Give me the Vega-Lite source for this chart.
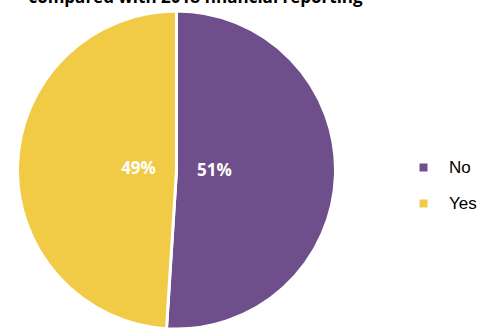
{
  "$schema": "https://vega.github.io/schema/vega-lite/v6.json",
  "autosize": {"type": "none"},
  "width": 353,
  "height": 312,
  "padding": {"top": 14, "left": 0, "right": 140, "bottom": 3},
  "background": "white",
  "title": {
    "text": "compared with 2018 financial reporting",
    "font": "Open Sans",
    "fontSize": 17,
    "fontWeight": "bold",
    "color": "#000000",
    "anchor": "middle",
    "frame": "group",
    "baseline": "alphabetic",
    "offset": 0,
    "dy": 15,
    "dx": 19
  },
  "data": {
    "values": [
      {"answer": "No", "share": 51, "label": "51%", "order": 1},
      {"answer": "Yes", "share": 49, "label": "49%", "order": 2}
    ]
  },
  "encoding": {
    "theta": {"field": "share", "type": "quantitative", "stack": true},
    "order": {"field": "order", "type": "quantitative"}
  },
  "layer": [
    {
      "mark": {"type": "arc", "outerRadius": 159, "stroke": "white", "strokeWidth": 3},
      "encoding": {
        "color": {
          "field": "answer",
          "type": "nominal",
          "scale": {"domain": ["No", "Yes"], "range": ["#6F4F8B", "#F2CB46"]},
          "legend": {
            "title": null,
            "orient": "none",
            "legendX": 415,
            "legendY": 145,
            "symbolType": "square",
            "symbolSize": 64,
            "symbolStrokeWidth": 0,
            "labelFont": "Liberation Sans",
            "labelFontSize": 17,
            "labelColor": "#000000",
            "labelOffset": 17,
            "rowPadding": 18
          }
        }
      }
    },
    {
      "mark": {"type": "text", "radius": 38, "font": "Open Sans", "fontSize": 17, "fontWeight": "bold"},
      "encoding": {
        "text": {"field": "label"},
        "color": {"value": "white"}
      }
    }
  ]
}
